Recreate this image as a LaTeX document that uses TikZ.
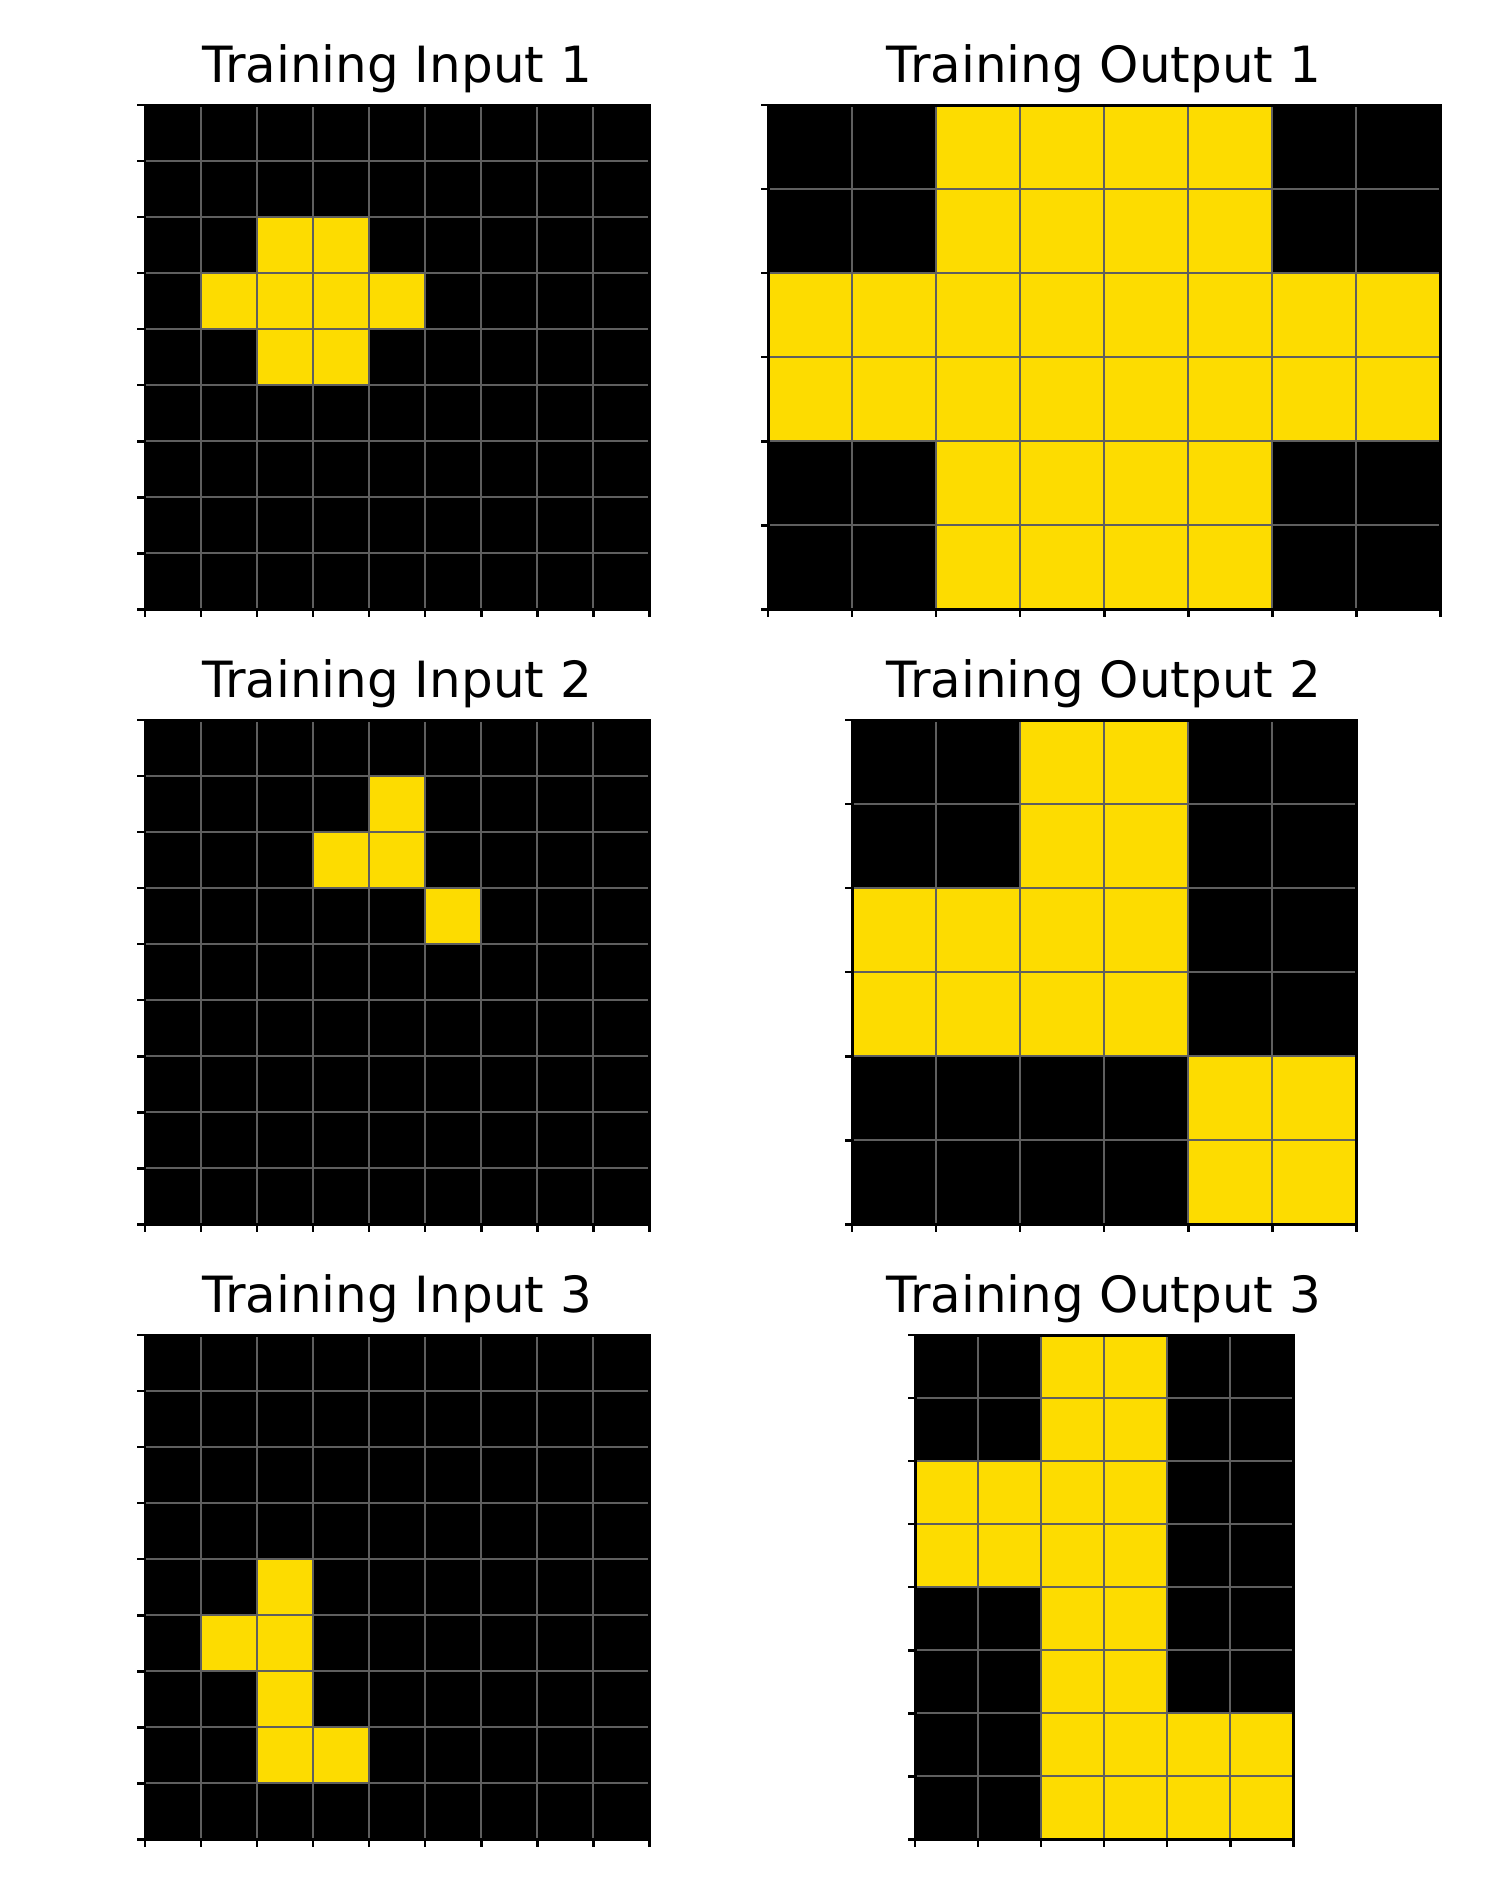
\documentclass[tikz,border=0pt]{standalone}
\usepackage{fontspec}
\setmainfont{DejaVu Sans}
\definecolor{arcyellow}{RGB}{253,220,0}
\definecolor{gridgray}{RGB}{95,95,95}

% one panel: x0, y0 (px), cell size (cm), columns, rows, yellow cells
\newcommand{\arcpanel}[6]{%
    \begin{scope}[shift={(#1,#2)}, x=#3cm, y=-#3cm]
        \fill[black] (0,0) rectangle (#4,#5);
        \foreach \c/\r in {#6}
            \fill[arcyellow] (\c,\r) rectangle ++(1,1);
        \foreach \i in {0,...,#4}
            \draw[cellline] (\i,0) -- (\i,#5);
        \foreach \j in {0,...,#5}
            \draw[cellline] (0,\j) -- (#4,\j);
        \draw[frame] (0,0) rectangle (#4,#5);
        \foreach \j in {0,...,#5}
            \draw[tickmark] (0,\j) -- ++(-0.075cm,0);
        \foreach \i in {0,...,#4}
            \draw[tickmark] (\i,#5) -- ++(0,-0.075cm);
    \end{scope}}

\begin{document}
\begin{tikzpicture}[x=0.01cm, y=-0.01cm,
    cellline/.style={gridgray, line width=0.55pt},
    frame/.style={black, line width=0.85pt},
    tickmark/.style={black, line width=0.75pt},
    title/.style={anchor=base, font=\fontsize{14.2}{17}\selectfont}]
        \useasboundingbox (0,0) rectangle (1500,1890);
    % Row 1
        \arcpanel{145}{105}{0.56}{9}{9}{2/2,3/2,1/3,2/3,3/3,4/3,2/4,3/4}
        \arcpanel{768}{105}{0.84}{8}{6}{2/0,3/0,4/0,5/0,2/1,3/1,4/1,5/1,
            0/2,1/2,2/2,3/2,4/2,5/2,6/2,7/2,0/3,1/3,2/3,3/3,4/3,5/3,6/3,7/3,
            2/4,3/4,4/4,5/4,2/5,3/5,4/5,5/5}
        \node[title] (in1) at (397,82) {Training Input 1};
        \node[title] (out1) at (1104,82) {Training Output 1};
    % Row 2
        \arcpanel{145}{720}{0.56}{9}{9}{4/1,3/2,4/2,5/3}
        \arcpanel{852}{720}{0.84}{6}{6}{2/0,3/0,2/1,3/1,0/2,1/2,2/2,3/2,
            0/3,1/3,2/3,3/3,4/4,5/4,4/5,5/5}
        \node[title] (in2) at (397,697) {Training Input 2};
        \node[title] (out2) at (1104,697) {Training Output 2};
    % Row 3
        \arcpanel{145}{1335}{0.56}{9}{9}{2/4,1/5,2/5,2/6,2/7,3/7}
        \arcpanel{915}{1335}{0.63}{6}{8}{2/0,3/0,2/1,3/1,0/2,1/2,2/2,3/2,
            0/3,1/3,2/3,3/3,2/4,3/4,2/5,3/5,2/6,3/6,4/6,5/6,2/7,3/7,4/7,5/7}
        \node[title] (in3) at (397,1312) {Training Input 3};
        \node[title] (out3) at (1104,1312) {Training Output 3};
\end{tikzpicture}
\end{document}
